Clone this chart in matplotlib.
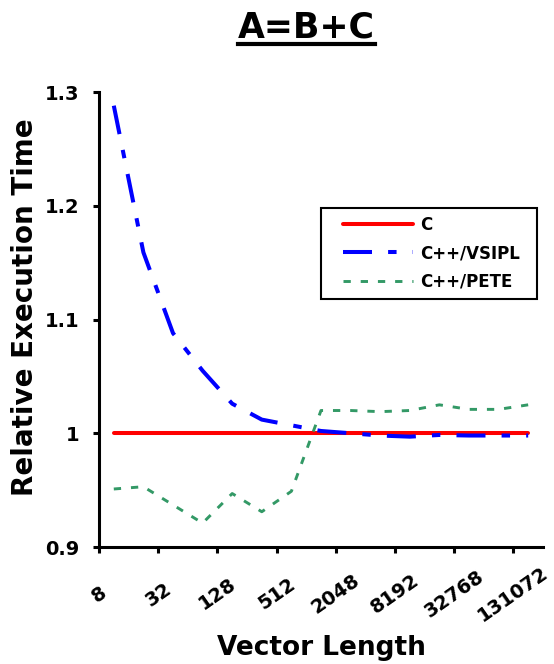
import numpy as np
import matplotlib
matplotlib.use('Agg')
from matplotlib import pyplot as plt
from matplotlib.lines import Line2D
from matplotlib.legend_handler import HandlerLine2D

sizes = [8, 16, 32, 64, 128, 256, 512, 1024, 2048, 4096,
         8192, 16384, 32768, 65536, 131072]
c_time = [1.0] * 15
vsipl_time = [1.288, 1.159, 1.088, 1.055, 1.026, 1.012, 1.007, 1.002,
              1.000, 0.998, 0.997, 0.9985, 0.998, 0.998, 0.998]
pete_time = [0.951, 0.953, 0.937, 0.921, 0.947, 0.931, 0.949, 1.020,
             1.020, 1.019, 1.020, 1.025, 1.021, 1.021, 1.025]

plt.rcParams['font.family'] = ['DejaVu Sans']
plt.rcParams['font.weight'] = 'bold'

fig = plt.figure(figsize=(5.54, 6.64), dpi=100)
ax = fig.add_axes([0.1787, 0.1762, 0.8014, 0.6852])

x = np.arange(len(sizes))
ax.plot(x, c_time, color='#ff0000', lw=2.9, label='C', solid_capstyle='round')
ax.plot(x, vsipl_time, color='#0000ff', lw=2.9, label='C++/VSIPL',
        linestyle=(0, (7.2, 4, 2.1, 4)))
ax.plot(x, pete_time, color='#339966', lw=2.1, label='C++/PETE',
        linestyle=(0, (2.5, 3.4)))

ax.set_xlim(-0.5, len(sizes) - 0.5)
ax.set_ylim(0.9, 1.3)
ax.set_yticks([0.9, 1.0, 1.1, 1.2, 1.3])
ax.set_yticklabels(['0.9', '1', '1.1', '1.2', '1.3'])
ax.set_xticks(x[::2] - 0.5)
ax.set_xticklabels([str(s) for s in sizes[::2]], rotation=35, ha='center')
plt.setp(ax.get_xticklabels(), va='center')

for side in ['top', 'right']:
    ax.spines[side].set_visible(False)
for side in ['left', 'bottom']:
    ax.spines[side].set_linewidth(2.2)
ax.tick_params(axis='y', width=2.2, length=4.5, pad=9.5, labelsize=14)
ax.tick_params(axis='x', width=2.2, length=4, pad=30, labelsize=14)

ax.set_ylabel('Relative Execution Time', fontsize=20, fontweight='bold')
ax.yaxis.set_label_coords(-0.135, 0.527)
ax.set_xlabel('Vector Length', fontsize=19, fontweight='bold')
ax.xaxis.set_label_coords(0.5, -0.194)

# legend box: x 321..537, y 208..297 px
leg = ax.legend(loc='upper left',
                bbox_to_anchor=(321 / 554, 1 - 297 / 664, 216 / 554, 89 / 664),
                bbox_transform=fig.transFigure, mode='expand', fontsize=12,
                handlelength=5.0, handletextpad=0.42, labelspacing=0.6,
                borderaxespad=0, fancybox=False, framealpha=1, borderpad=0.5,
                handler_map={Line2D: HandlerLine2D(xpad=0.8)})
leg.get_frame().set_edgecolor('black')
leg.get_frame().set_linewidth(1.5)

title = fig.text(306 / 554, 1 - 11 / 664, 'A=B+C', fontsize=25,
                 fontweight='bold', ha='center', va='top')

# underline the title
fig.canvas.draw()
bb = title.get_window_extent().transformed(fig.transFigure.inverted())
uy = 1 - 44 / 664
fig.add_artist(Line2D([bb.x0, bb.x1], [uy, uy], color='black', lw=3,
                      transform=fig.transFigure))

fig.savefig('out.png', dpi=100)
